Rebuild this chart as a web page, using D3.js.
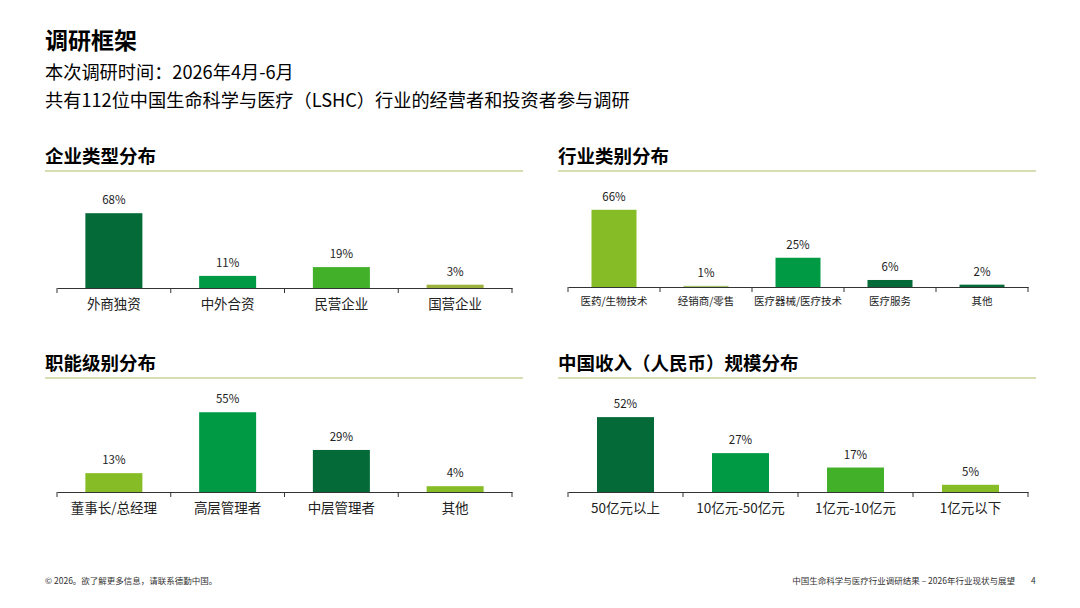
<!DOCTYPE html><html><head><meta charset="utf-8"><script src="https://cdn.jsdelivr.net/npm/d3@7"></script>
<style>body{margin:0;background:#fff;font-family:"Noto Sans CJK SC","Noto Sans",sans-serif}</style></head><body><svg id="c" width="1080" height="608"></svg>
<script>
const DG="#046a38",MG="#009a44",BG="#43b02a",LG="#86bc25",OL="#9cb23c";
const cats1=["外商独资","中外合资","民营企业","国营企业"],vals1=[68,11,19,3],cols1=[DG,MG,BG,OL];
const cats2=["医药/生物技术","经销商/零售","医疗器械/医疗技术","医疗服务","其他"],vals2=[66,1,25,6,2],cols2=[LG,"#a6c46a",MG,DG,DG];
const cats3=["董事长/总经理","高层管理者","中层管理者","其他"],vals3=[13,55,29,4],cols3=[LG,MG,DG,LG];
const cats4=["50亿元以上","10亿元-50亿元","1亿元-10亿元","1亿元以下"],vals4=[52,27,17,5],cols4=[DG,MG,BG,LG];
const svg=d3.select("#c");
svg.append("text").attr("x",45).attr("y",49).attr("font-size",23).attr("font-weight",700).text("调研框架");
svg.append("text").attr("x",45).attr("y",79).attr("font-size",18.2).text("本次调研时间：2026年4月-6月");
svg.append("text").attr("x",45).attr("y",107).attr("font-size",18.2).text("共有112位中国生命科学与医疗（LSHC）行业的经营者和投资者参与调研");
function panel(title,cats,vals,cols,tx,x0,x1,ty,base,ppu,bw,fs){
  svg.append("text").attr("x",tx).attr("y",ty).attr("font-size",18.5).attr("font-weight",700).text(title);
  svg.append("line").attr("x1",tx).attr("x2",tx+478).attr("y1",ty+8).attr("y2",ty+8).attr("stroke","#c8d49a").attr("stroke-width",1.5);
  const x=d3.scaleBand().domain(cats).range([x0,x1]);
  const y=d3.scaleLinear().domain([0,100]).range([base,base-100*ppu]);
  const g=svg.append("g");
  g.selectAll("rect").data(vals).join("rect").attr("x",(d,i)=>x(cats[i])+(x.bandwidth()-bw)/2).attr("width",bw)
   .attr("y",d=>y(d)).attr("height",d=>base-y(d)).attr("fill",(d,i)=>cols[i]);
  g.selectAll(".v").data(vals).join("text").attr("x",(d,i)=>x(cats[i])+x.bandwidth()/2).attr("y",d=>y(d)-9)
   .attr("text-anchor","middle").attr("font-size",11.5).attr("fill","#222").text(d=>d+"%");
  const ax=svg.append("g").attr("transform",`translate(0,${base})`).call(d3.axisBottom(x).tickSize(0).tickPadding(11));
  ax.select(".domain").attr("stroke","#333");
  ax.selectAll("text").attr("font-size",fs).attr("fill","#222").attr("font-family","Noto Sans CJK SC");
  const edges=cats.map(c=>x(c)).concat([x1]);
  ax.selectAll(".e").data(edges).join("line").attr("x1",d=>d).attr("x2",d=>d).attr("y1",0).attr("y2",5).attr("stroke","#333");
}
panel("企业类型分布",cats1,vals1,cols1,45,57,512,163,288,1.1,57,13.5);
panel("行业类别分布",cats2,vals2,cols2,558,568,1028,163,287,1.17,45,10.5);
panel("职能级别分布",cats3,vals3,cols3,45,57,512,370,492,1.45,57,13.5);
panel("中国收入（人民币）规模分布",cats4,vals4,cols4,558,568,1028,370,492,1.44,57,13.5);
svg.append("text").attr("x",45).attr("y",584).attr("font-size",8.5).attr("fill","#333").text("© 2026。欲了解更多信息，请联系德勤中国。");
svg.append("text").attr("x",1015).attr("y",584).attr("font-size",8.5).attr("fill","#333").attr("text-anchor","end").text("中国生命科学与医疗行业调研结果 – 2026年行业现状与展望");
svg.append("text").attr("x",1031).attr("y",584).attr("font-size",8.5).attr("fill","#333").text("4");
</script></body></html>
